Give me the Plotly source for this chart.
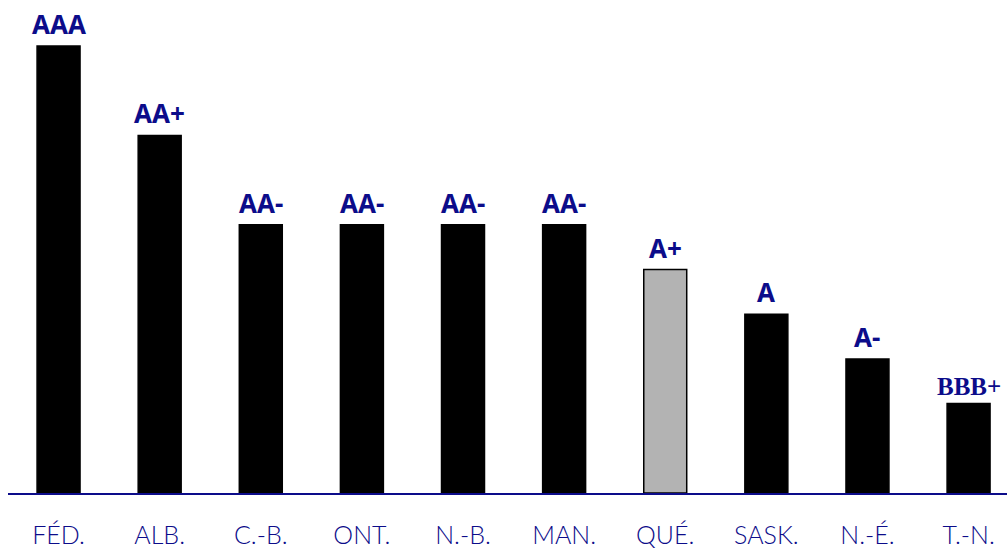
import plotly.graph_objects as go

categories = ["FÉD.", "ALB.", "C.-B.", "ONT.", "N.-B.", "MAN.", "QUÉ.", "SASK.", "N.-É.", "T.-N."]
scores = [10, 8, 6, 6, 6, 6, 5, 4, 3, 2]
ratings = ["AAA", "AA+", "AA-", "AA-", "AA-", "AA-", "A+", "A", "A-", "BBB+"]
bar_colors = ["#000000"] * 6 + ["#b3b3b3"] + ["#000000"] * 3

NAVY = "#0c0c8a"

fig = go.Figure(go.Bar(
    x=categories, y=scores,
    marker=dict(color=bar_colors, line=dict(color="#000000", width=1.5)),
    width=0.425,
    hoverinfo="skip",
))

for c, v, r in zip(categories, scores, ratings):
    serif = r.startswith("BBB")
    fig.add_annotation(
        x=c, y=v, text=f"<b>{r}</b>", showarrow=False,
        yanchor="bottom", yshift=2, xanchor="center",
        font=dict(family="Liberation Serif" if serif else "Noto Sans",
                  size=25 if serif else 26, color=NAVY),
    )

fig.update_layout(
    width=1007, height=552,
    margin=dict(l=8, r=0, t=0, b=59, autoexpand=False),
    plot_bgcolor="white", paper_bgcolor="white",
    showlegend=False,
    xaxis=dict(
        range=[-0.5, 9.38], showgrid=False, zeroline=False, automargin=False,
        showline=True, linecolor=NAVY, linewidth=2,
        ticks="outside", ticklen=19, tickcolor="rgba(0,0,0,0)",
        tickfont=dict(family="Lato", size=25, color=NAVY, weight=300),
    ),
    yaxis=dict(range=[0, 11.03], visible=False, showgrid=False, zeroline=False,
               automargin=False),
)

fig.write_html(
    "out.html",
    config={"displayModeBar": False},
    post_script="document.body.style.margin='0';document.body.style.overflow='hidden';",
)
